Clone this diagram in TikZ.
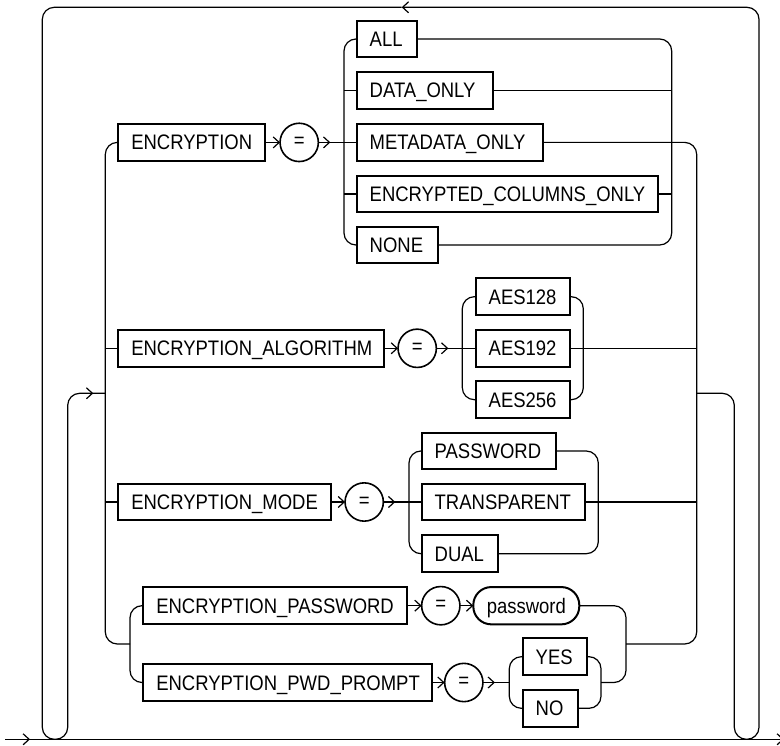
\documentclass[tikz,border=0pt]{standalone}
\usepackage{fontspec}
\setmainfont{Liberation Sans}[FakeStretch=0.88]
\usetikzlibrary{arrows.meta,decorations.markings}
\newcommand\dgfont{\fontsize{21}{24}\selectfont}
\tikzset{
  ln/.style={line width=1.2pt, rounded corners=12pt},
  kw/.style={draw, line width=2pt, anchor=west, outer sep=0pt, minimum height=36.7pt,
    inner xsep=13pt, inner ysep=0pt, align=left, text height=15pt, text depth=0pt, font=\dgfont},
  op/.style={draw, circle, line width=1.6pt, minimum size=38.3pt, inner sep=0pt, outer sep=0pt, font=\dgfont},
  term/.style={draw, line width=2pt, rounded corners=18pt, anchor=west, outer sep=0pt,
    minimum height=37.3pt, minimum width=106pt, inner sep=0pt, text height=15pt, text depth=0pt, font=\dgfont},
  endarr/.style={-{Straight Barb[length=6pt,width=11pt]}},
  midarr/.style={postaction={decorate}, decoration={markings,
    mark=at position #1 with {\arrow{Straight Barb[length=6pt,width=11pt]}}}},
}
\begin{document}
\begin{tikzpicture}[x=1pt,y=-1pt]
\useasboundingbox (0,0) rectangle (780,746);

% ---- nodes
\node[kw, text width=120.7pt] (enc) at (118.3,142.4) {ENCRYPTION};
\node[op] (eq1) at (299.2,142.4) {=};
\node[kw, text width=34pt]  (all)  at (356.7,39)    {ALL};
\node[kw, text width=110pt] (data) at (356.7,90.3)  {DATA\_ONLY};
\node[kw, text width=160.6pt] (meta) at (356.7,142.4) {METADATA\_ONLY};
\node[kw, text width=275.6pt] (ecol) at (356.7,194)   {ENCRYPTED\_COLUMNS\_ONLY};
\node[kw, text width=55pt]  (none) at (356.7,245)   {NONE};

\node[kw, text width=239.7pt] (ealg) at (118.3,348.3) {ENCRYPTION\_ALGORITHM};
\node[op] (eq2) at (417.2,348.3) {=};
\node[kw, text width=68.3pt] (aes128) at (475.7,296.7) {AES128};
\node[kw, text width=68.3pt] (aes192) at (475.7,348.3) {AES192};
\node[kw, text width=68.3pt] (aes256) at (475.7,399.7) {AES256};

\node[kw, text width=186.4pt] (emode) at (118.3,502) {ENCRYPTION\_MODE};
\node[op] (eq3) at (364.2,502) {=};
\node[kw, text width=108.3pt] (pw)     at (421.7,451)   {PASSWORD};
\node[kw, text width=137.3pt] (transp) at (421.7,502)   {TRANSPARENT};
\node[kw, text width=50.6pt]  (dual)   at (421.7,553.7) {DUAL};

\node[kw, text width=237.4pt] (epw) at (143.3,605.7) {ENCRYPTION\_PASSWORD};
\node[op] (eq4) at (440.8,605.7) {=};
\node[term] (pwdval) at (473.3,605.7) {password};
\node[kw, text width=262.4pt] (epp) at (143.3,682.5) {ENCRYPTION\_PWD\_PROMPT};
\node[op] (eq5) at (463.8,682.5) {=};
\node[kw, text width=38pt]   (yes) at (522.7,656.7) {YES};
\node[kw, text width=29.6pt] (no)  at (522.7,708.3) {NO};

% ---- junction coordinates
\coordinate (mstart) at (5,739.3);
\coordinate (mend)   at (784,739.3);
\coordinate (exitR)  at (696.7,393.3);
\coordinate (topArr) at (401.7,7.3);
\coordinate (entryL) at (105.3,393.3);
\coordinate (jAlg)   at (105.3,348.3);
\coordinate (jMode)  at (105.3,502);
\coordinate (jPw)    at (130,644);
\coordinate (jData)  at (344,90.3);
\coordinate (jEcol)  at (344,194);
\coordinate (kData)  at (671.7,90.3);
\coordinate (kEcol)  at (671.7,194);
\coordinate (kAes)   at (696.7,348.3);
\coordinate (kMode)  at (696.7,502);
\coordinate (kPw)    at (626,644);
\coordinate (jYn)    at (509.3,682.5);
\coordinate (kYn)    at (601,682.5);

% ---- main line
\draw[ln, midarr=25pt, endarr] (mstart) -- (mend);

% ---- repeat loop
\draw[ln, endarr] (exitR) -- (734.3,393.3) -- (734.3,739.3) -- (759,739.3) -- (759,7.3) -- (topArr);
\draw[ln, midarr=-12pt] (topArr) -- (42.3,7.3) -- (42.3,739.3) -- (67.7,739.3) -- (67.7,393.3) -- (entryL);

% ---- big choice, left and right rails
\draw[ln] (enc.west) -- (105.3,142.4) -- (105.3,644) -- (jPw);
\draw[ln] (jAlg) -- (ealg.west);
\draw[ln] (jMode) -- (emode.west);
\draw[ln] (meta.east) -- (696.7,142.4) -- (696.7,644) -- (kPw);

% ---- ENCRYPTION row
\draw[ln, endarr] (enc) -- (eq1);
\draw[ln, midarr=12pt] (eq1) -- (meta);
\draw[ln] (all.west) -- (344,39) -- (344,245) -- (none.west);
\draw[ln] (jData) -- (data.west);
\draw[ln] (jEcol) -- (ecol.west);
\draw[ln] (all.east) -- (671.7,39) -- (671.7,245) -- (none.east);
\draw[ln] (data.east) -- (kData);
\draw[ln] (ecol.east) -- (kEcol);

% ---- ALGORITHM row
\draw[ln, endarr] (ealg) -- (eq2);
\draw[ln, midarr=12pt] (eq2) -- (aes192);
\draw[ln] (aes128.west) -- (462.3,296.7) -- (462.3,399.7) -- (aes256.west);
\draw[ln] (aes128.east) -- (583.3,296.7) -- (583.3,399.7) -- (aes256.east);
\draw[ln] (aes192.east) -- (kAes);

% ---- MODE row
\draw[ln, endarr] (emode) -- (eq3);
\draw[ln, midarr=12pt] (eq3) -- (transp);
\draw[ln] (pw.west) -- (409,451) -- (409,553.7) -- (dual.west);
\draw[ln] (pw.east) -- (598.3,451) -- (598.3,553.7) -- (dual.east);
\draw[ln] (transp.east) -- (kMode);

% ---- PASSWORD / PWD_PROMPT
\draw[ln] (epw.west) -- (130,605.7) -- (130,682.5) -- (epp.west);
\draw[ln, endarr] (epw) -- (eq4);
\draw[ln, endarr] (eq4) -- (pwdval);
\draw[ln] (pwdval.east) -- (626,605.7) -- (626,682.5) -- (kYn);
\draw[ln, endarr] (epp) -- (eq5);
\draw[ln, midarr=12pt] (eq5) -- (jYn);
\draw[ln] (yes.west) -- (509.3,656.7) -- (509.3,708.3) -- (no.west);
\draw[ln] (yes.east) -- (601,656.7) -- (601,708.3) -- (no.east);
\end{tikzpicture}
\end{document}
